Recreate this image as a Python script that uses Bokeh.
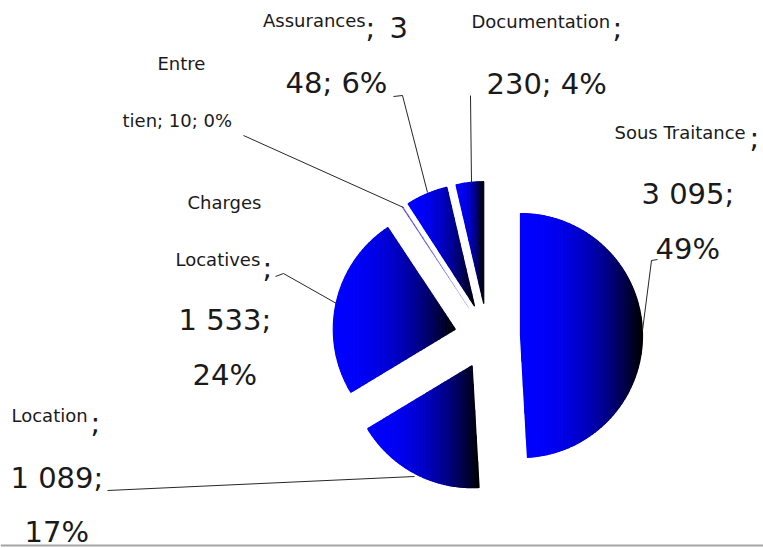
import math
from bokeh.plotting import figure
from bokeh.models import Range1d
from bokeh.core.properties import value
from bokeh.embed import file_html
from bokeh.resources import INLINE

# ---------------- data ----------------
categories = ["Sous Traitance", "Location", "Charges Locatives", "Entretien", "Assurances", "Documentation"]
values = [3095, 1089, 1533, 10, 348, 230]

total = sum(values)
pcts = [round(v * 100 / total) for v in values]


def fmt(v):
    return f"{v:,}".replace(",", " ")


labels = [f"{c}; {fmt(v)}; {p}%" for c, v, p in zip(categories, values, pcts)]

# label fragments as wrapped in the reference (each label split into pieces)
fragments = [
    (0, "Sous Traitance", "s"), (0, ";", "l"), (0, "3 095;", "l"), (0, "49%", "l"),
    (1, "Location", "s"), (1, ";", "l"), (1, "1 089;", "l"), (1, "17%", "l"),
    (2, "Charges", "s"), (2, "Locatives", "s"), (2, ";", "l"), (2, "1 533;", "l"), (2, "24%", "l"),
    (3, "Entre", "s"), (3, "tien; 10; 0%", "s"),
    (4, "Assurances", "s"), (4, ";", "l"), (4, "3", "l"), (4, "48; 6%", "l"),
    (5, "Documentation", "s"), (5, ";", "l"), (5, "230; 4%", "l"),
]

# ---------------- layout (pixel-like coordinates, ink baselines) ----------------
frag_pos = [
    (614, 139), (749, 147), (641, 203), (655, 258),
    (11, 422), (90, 432), (10, 487), (24, 541),
    (187, 209), (175, 266), (262, 277), (178, 329), (192, 384),
    (157, 70), (122, 127),
    (262.5, 27), (365, 37), (389, 37), (285, 92),
    (471, 28), (612, 37), (486, 93),
]
baseline_shift = {"s": 7, "l": 10}

leaders = [
    [(657, 259), (651, 260), (642, 330)],      # Sous Traitance
    [(107, 490), (414, 476)],                  # Location
    [(275, 276), (283, 273), (336, 303)],      # Charges Locatives
    [(243, 135), (403, 207)],                  # Entretien
    [(393, 96), (402, 95), (427, 192)],        # Assurances
    [(470, 95), (471, 183)],                   # Documentation
]

CX, CY, R, EXPLODE = 487, 336, 122, 33
W, H = 763, 548

p = figure(width=W, height=H, x_range=Range1d(0, W), y_range=Range1d(H, 0),
           output_backend="svg", toolbar_location=None, min_border=0,
           x_axis_location=None, y_axis_location=None, outline_line_color=None,
           background_fill_color="white", border_fill_color="white")
p.grid.visible = False


def clip_half(pts, keep, xc):
    out = []
    n = len(pts)
    for i in range(n):
        P = pts[i]
        Q = pts[(i + 1) % n]
        inP, inQ = keep(P[0]), keep(Q[0])
        if inP:
            out.append(P)
        if inP != inQ:
            t = (xc - P[0]) / (Q[0] - P[0])
            out.append((xc, P[1] + t * (Q[1] - P[1])))
    return out


def grad_color(t):
    t = min(max(t, 0.0), 1.0)
    b = int(round(255 * (1 - t ** 2.2)))
    return "#%02x%02x%02x" % (0, 0, b)


xs_all, ys_all, cols, lws = [], [], [], []
cum = 0
for v in values:
    a0 = 2 * math.pi * cum / total
    a1 = 2 * math.pi * (cum + v) / total
    cum += v
    mid = (a0 + a1) / 2
    ax = CX + EXPLODE * math.sin(mid)
    ay = CY - EXPLODE * math.cos(mid)
    n = max(3, int(math.degrees(a1 - a0) * 1.5))
    thin = math.degrees(a1 - a0) < 2
    poly = [(ax, ay)]
    for k in range(n + 1):
        a = a0 + (a1 - a0) * k / n
        poly.append((ax + R * math.sin(a), ay - R * math.cos(a)))
    xmin = min(q[0] for q in poly)
    xmax = max(q[0] for q in poly)
    nstrip = max(2, int(math.ceil((xmax - xmin) / 1.5)))
    for j in range(nstrip):
        x0 = xmin + (xmax - xmin) * j / nstrip
        x1 = xmin + (xmax - xmin) * (j + 1) / nstrip
        pts = clip_half(poly, lambda x: x >= x0, x0)
        if pts:
            pts = clip_half(pts, lambda x: x <= x1, x1)
        if len(pts) >= 3:
            xs_all.append([q[0] for q in pts])
            ys_all.append([q[1] for q in pts])
            c = "#4a4ae0" if thin else grad_color(((x0 + x1) / 2 - xmin) / (xmax - xmin))
            cols.append(c)
            lws.append(0.1 if thin else 1.2)

p.patches(xs_all, ys_all, fill_color=cols, line_color=cols, line_width=lws)

p.multi_line([[q[0] for q in L] for L in leaders], [[q[1] for q in L] for L in leaders],
             line_color="#262626", line_width=1)

for key, size in (("s", "18px"), ("l", "29px")):
    tx, ty, tt = [], [], []
    for (ci, txt, k), (x, y) in zip(fragments, frag_pos):
        if k == key:
            tx.append(x)
            ty.append(y - baseline_shift[key])
            tt.append(txt)
    p.text(x=tx, y=ty, text=tt, text_font=value("DejaVu Sans"), text_font_size=size,
           text_baseline="alphabetic", text_align="left", text_color="#1a1a1a")

p.segment(x0=[0], y0=[545], x1=[W], y1=[545], line_color="#a6a6a6", line_width=2)

open("out.html", "w").write(file_html(p, INLINE))
